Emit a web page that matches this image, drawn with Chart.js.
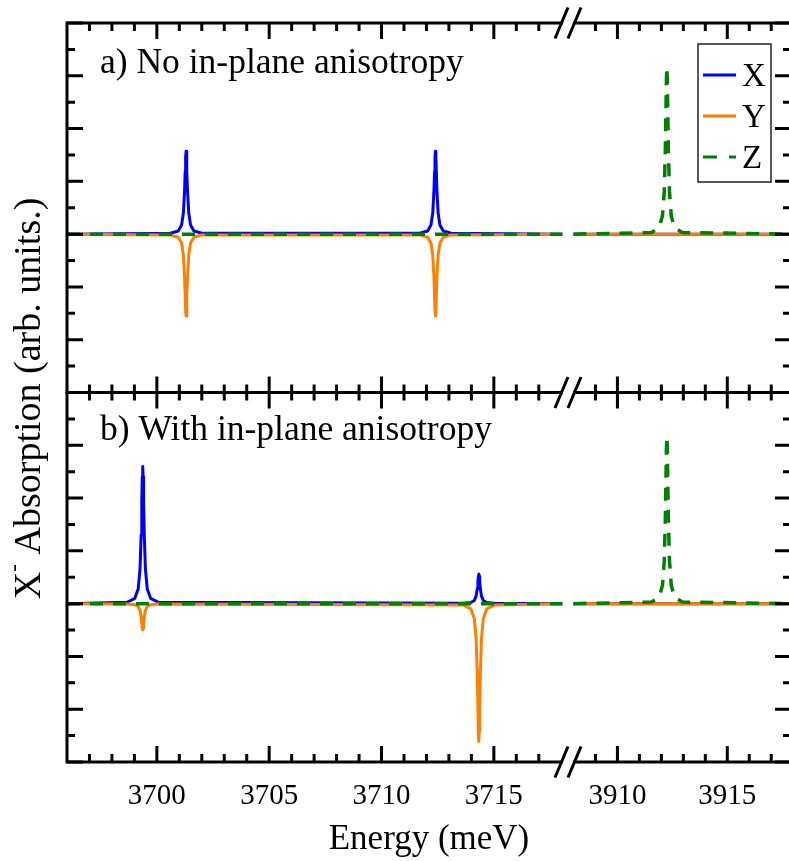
<!DOCTYPE html>
<html>
<head>
<meta charset="utf-8">
<script src="https://cdn.jsdelivr.net/npm/chart.js"></script>
<style>
  html, body { margin: 0; padding: 0; overflow: hidden; background: #fff; }
  canvas { display: block; }
</style>
</head>
<body>
<canvas id="chart" width="792" height="861"></canvas>
<script>
// panel a) left segment, peaks near 3701.3 and 3712.4 meV
const energyA = [3696,
  3700.6, 3700.95, 3701.1, 3701.18, 3701.23, 3701.26, 3701.28, 3701.3, 3701.32, 3701.34, 3701.37, 3701.42, 3701.5, 3701.65, 3702.0,
  3711.7, 3712.05, 3712.2, 3712.28, 3712.33, 3712.36, 3712.38, 3712.4, 3712.42, 3712.44, 3712.47, 3712.52, 3712.6, 3712.75, 3713.1,
  3718.05];
const xAbsA = [0,
  0.016, 0.06, 0.171, 0.399, 0.785, 1.184, 1.452, 1.57, 1.452, 1.184, 0.785, 0.399, 0.171, 0.06, 0.016,
  0.016, 0.06, 0.171, 0.399, 0.785, 1.184, 1.452, 1.57, 1.452, 1.184, 0.785, 0.399, 0.171, 0.06, 0.016,
  0];
const yAbsA = [0,
  -0.015, -0.06, -0.169, -0.394, -0.775, -1.169, -1.434, -1.55, -1.434, -1.169, -0.775, -0.394, -0.169, -0.06, -0.015,
  -0.015, -0.06, -0.169, -0.394, -0.775, -1.169, -1.434, -1.55, -1.434, -1.169, -0.775, -0.394, -0.169, -0.06, -0.015,
  0];

// panel b) left segment, peaks near 3699.37 and 3714.33 meV
const energyB = [3696,
  3698.67, 3699.02, 3699.17, 3699.25, 3699.3, 3699.33, 3699.35, 3699.37, 3699.39, 3699.41, 3699.44, 3699.49, 3699.57, 3699.72, 3700.07,
  3713.63, 3713.98, 3714.13, 3714.21, 3714.26, 3714.29, 3714.31, 3714.33, 3714.35, 3714.37, 3714.4, 3714.45, 3714.53, 3714.68, 3715.03,
  3718.05];
const xAbsB = [0,
  0.026, 0.1, 0.283, 0.66, 1.3, 1.96, 2.405, 2.6, 2.405, 1.96, 1.3, 0.66, 0.283, 0.1, 0.026,
  0.006, 0.022, 0.061, 0.142, 0.28, 0.422, 0.518, 0.56, 0.518, 0.422, 0.28, 0.142, 0.061, 0.022, 0.006,
  0];
const yAbsB = [0,
  -0.005, -0.019, -0.055, -0.127, -0.25, -0.377, -0.463, -0.5, -0.463, -0.377, -0.25, -0.127, -0.055, -0.019, -0.005,
  -0.026, -0.1, -0.284, -0.663, -1.305, -1.968, -2.414, -2.61, -2.414, -1.968, -1.305, -0.663, -0.284, -0.1, -0.026,
  0];

// right segment, Z peak near 3912.25 meV (same in both panels)
const energyZ = [3908,
  3911.55, 3911.9, 3912.05, 3912.13, 3912.18, 3912.21, 3912.23, 3912.25, 3912.27, 3912.29, 3912.32, 3912.37, 3912.45, 3912.6, 3912.95,
  3917.9];
const zAbsA = [0,
  0.031, 0.122, 0.346, 0.805, 1.585, 2.39, 2.932, 3.17, 2.932, 2.39, 1.585, 0.805, 0.346, 0.122, 0.031,
  0];
const zAbsB = [0,
  0.031, 0.122, 0.346, 0.805, 1.585, 2.39, 2.932, 3.17, 2.932, 2.39, 1.585, 0.805, 0.346, 0.122, 0.031,
  0];

// flat parts
const leftEnds = [3696, 3718.05];
const rightEnds = [3908, 3917.9];
const flat = [0, 0];

// x ticks
const majorTicks = [3700, 3705, 3710, 3715, 3910, 3915];
const minorTicks = [3697, 3698, 3699, 3701, 3702, 3703, 3704, 3706, 3707, 3708, 3709, 3711, 3712, 3713, 3714, 3716, 3717,
  3909, 3911, 3912, 3913, 3914, 3916, 3917];

const panelTitles = ['a) No in-plane anisotropy', 'b) With in-plane anisotropy'];

// broken axis: right segment is slid next to the left one
const LEFT_END = 3718.3;
const RIGHT_START = 3907.75;
const RIGHT_SQUEEZE = 0.978;
const X_MIN = 3696;
const X_MAX_RIGHT = 3917.9;

function toAxis(e) {
  return e < 3800 ? e : LEFT_END + (e - RIGHT_START) * RIGHT_SQUEEZE;
}

function series(leftE, leftV, rightE, rightV) {
  const pts = leftE.map((e, i) => ({x: toAxis(e), y: leftV[i]}));
  pts.push({x: LEFT_END, y: null});
  rightE.forEach((e, i) => pts.push({x: toAxis(e), y: rightV[i]}));
  return pts;
}

const BLUE = '#0000ff';
const ORANGE = '#ff8000';
const GREEN = '#008000';
const SERIF = '"Liberation Serif", "Times New Roman", serif';

Chart.defaults.font.family = SERIF;
Chart.defaults.color = '#000';

const common = {borderWidth: 3, pointRadius: 0, tension: 0, fill: false, borderJoinStyle: 'round', xAxisID: 'x'};

const datasets = [
  {...common, label: 'X', yAxisID: 'ya', borderColor: BLUE, order: 2, data: series(energyA, xAbsA, rightEnds, flat)},
  {...common, label: 'Y', yAxisID: 'ya', borderColor: ORANGE, order: 1, data: series(energyA, yAbsA, rightEnds, flat)},
  {...common, label: 'Z', yAxisID: 'ya', borderColor: GREEN, order: 0, borderWidth: 3.5, borderDash: [13, 10], data: series(leftEnds, flat, energyZ, zAbsA)},
  {...common, label: 'X', yAxisID: 'yb', borderColor: BLUE, order: 2, data: series(energyB, xAbsB, rightEnds, flat)},
  {...common, label: 'Y', yAxisID: 'yb', borderColor: ORANGE, order: 1, data: series(energyB, yAbsB, rightEnds, flat)},
  {...common, label: 'Z', yAxisID: 'yb', borderColor: GREEN, order: 0, borderWidth: 3.5, borderDash: [13, 10], data: series(leftEnds, flat, energyZ, zAbsB)},
];

function panelAxis(weight) {
  return {
    type: 'linear', position: 'left', stack: 'panels', stackWeight: 1, weight: weight,
    min: -3, max: 4,
    ticks: {display: false, stepSize: 0.5},
    grid: {display: false},
    border: {display: false},
    afterFit: s => { s.width = 0; }
  };
}

const framePlugin = {
  id: 'frame',
  afterDatasetsDraw(chart) {
    const ctx = chart.ctx;
    const area = chart.chartArea;
    const xs = chart.scales.x;
    const panels = [chart.scales.ya, chart.scales.yb];
    ctx.save();
    ctx.strokeStyle = '#000';
    ctx.lineWidth = 3;
    ctx.lineCap = 'butt';

    panels.forEach(ys => ctx.strokeRect(area.left, ys.top, area.right - area.left, ys.bottom - ys.top));

    // inward ticks
    const edges = [[panels[0].top, 1], [panels[0].bottom, -1], [panels[1].top, 1], [panels[1].bottom, -1]];
    ctx.beginPath();
    xs.ticks.forEach(t => {
      const px = xs.getPixelForValue(t.value);
      const len = majorTicks.includes(t.energy) ? 16 : 8;
      edges.forEach(([y, dir]) => { ctx.moveTo(px, y); ctx.lineTo(px, y + dir * len); });
    });
    panels.forEach(ys => ys.ticks.forEach(t => {
      const py = ys.getPixelForValue(t.value);
      const len = Number.isInteger(t.value) ? 16 : 8;
      ctx.moveTo(area.left, py); ctx.lineTo(area.left + len, py);
      ctx.moveTo(area.right, py); ctx.lineTo(area.right - len, py);
    }));
    ctx.stroke();

    // break marks
    const bx = xs.getPixelForValue(LEFT_END);
    [panels[0].top, panels[0].bottom, panels[1].bottom].forEach(y => {
      ctx.fillStyle = '#fff';
      ctx.fillRect(bx - 5, y - 3, 10, 6);
      ctx.beginPath();
      [-6.5, 6.5].forEach(dx => {
        ctx.moveTo(bx + dx - 6.5, y + 15.5);
        ctx.lineTo(bx + dx + 6.5, y - 15.5);
      });
      ctx.stroke();
    });

    // panel titles
    ctx.fillStyle = '#000';
    ctx.font = '35.5px ' + SERIF;
    ctx.textAlign = 'left';
    ctx.textBaseline = 'alphabetic';
    ctx.fillText(panelTitles[0], area.left + 33, panels[0].top + 50);
    ctx.fillText(panelTitles[1], area.left + 33, panels[1].top + 47);

    // legend
    const lx = area.right - 93, ly = area.top + 21, lw = 73, lh = 138;
    ctx.fillStyle = '#fff';
    ctx.fillRect(lx, ly, lw, lh);
    ctx.lineWidth = 1.5;
    ctx.strokeStyle = '#222';
    ctx.strokeRect(lx, ly, lw, lh);
    ctx.font = '33px ' + SERIF;
    ctx.textBaseline = 'middle';
    chart.data.datasets.slice(0, 3).forEach((ds, i) => {
      const cy = ly + 31 + i * 41;
      ctx.strokeStyle = ds.borderColor;
      ctx.lineWidth = 3;
      ctx.setLineDash(ds.borderDash ? [14, 12] : []);
      ctx.beginPath();
      ctx.moveTo(lx + 5, cy);
      ctx.lineTo(lx + 38, cy);
      ctx.stroke();
      ctx.setLineDash([]);
      ctx.fillStyle = '#000';
      ctx.fillText(ds.label, lx + 44, cy + 2);
    });

    // y title (spans both panels)
    ctx.save();
    ctx.translate(40, (panels[0].top + panels[1].bottom) / 2 + 6);
    ctx.rotate(-Math.PI / 2);
    ctx.textBaseline = 'alphabetic';
    ctx.textAlign = 'left';
    const big = '38px ' + SERIF, small = '24px ' + SERIF;
    const rest = ' Absorption (arb. units.)';
    ctx.font = big;
    const wX = ctx.measureText('X').width;
    const wRest = ctx.measureText(rest).width;
    ctx.font = small;
    const wSup = ctx.measureText('-').width;
    let x0 = -(wX + wSup + wRest) / 2;
    ctx.font = big;
    ctx.fillText('X', x0, 0);
    ctx.font = small;
    ctx.fillText('-', x0 + wX, -19);
    ctx.font = big;
    ctx.fillText(rest, x0 + wX + wSup, 0);
    ctx.restore();

    ctx.restore();
  }
};

new Chart(document.getElementById('chart'), {
  type: 'line',
  data: {datasets: datasets},
  options: {
    responsive: false,
    animation: false,
    events: [],
    layout: {padding: {top: 23, left: 67, right: 1, bottom: 0}},
    plugins: {legend: {display: false}, tooltip: {enabled: false}},
    scales: {
      x: {
        type: 'linear', position: 'bottom',
        min: X_MIN, max: toAxis(X_MAX_RIGHT),
        grid: {display: false},
        border: {display: false},
        afterBuildTicks: s => {
          s.ticks = majorTicks.concat(minorTicks).sort((a, b) => a - b)
            .map(e => ({value: toAxis(e), energy: e}));
        },
        ticks: {
          autoSkip: false, maxRotation: 0, minRotation: 0, padding: 9,
          font: {size: 29}, color: '#000',
          callback: (v, i, ticks) => majorTicks.includes(ticks[i].energy) ? String(ticks[i].energy) : ''
        },
        title: {display: true, text: 'Energy (meV)', font: {size: 35}, color: '#000', padding: {top: 0, bottom: 0}},
        afterFit: s => { s.height = 99; }
      },
      yb: panelAxis(0),
      ya: panelAxis(1)
    }
  },
  plugins: [framePlugin]
});
</script>
</body>
</html>
